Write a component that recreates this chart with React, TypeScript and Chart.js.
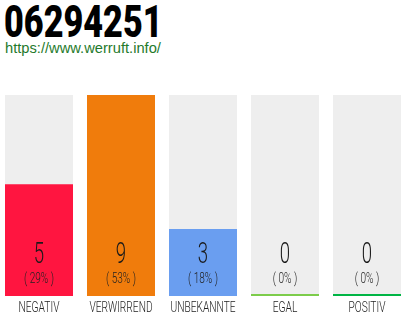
import React, { useEffect, useRef } from "react";
import { Chart, registerables } from "chart.js";

Chart.register(...registerables);

const categories = ["NEGATIV", "VERWIRREND", "UNBEKANNTE", "EGAL", "POSITIV"];
const counts = [5, 9, 3, 0, 0];
const percents = [29, 53, 18, 0, 0];
const barColors = ["#ff1540", "#f07c0c", "#6a9ef0", "#7ccc4a", "#00b545"];
const trackColor = "#eeeeee";
const phoneNumber = "06294251";
const siteUrl = "https://www.werruft.info/";

// Draws horizontally squeezed text so it reads like a condensed face.
function condensedText(
  ctx: CanvasRenderingContext2D,
  text: string,
  x: number,
  y: number,
  font: string,
  sx: number,
  color: string
) {
  ctx.save();
  ctx.translate(x, y);
  ctx.scale(sx, 1);
  ctx.font = font;
  ctx.fillStyle = color;
  ctx.textAlign = "center";
  ctx.textBaseline = "alphabetic";
  ctx.fillText(text, 0, 0);
  ctx.restore();
}

const labelPlugin = {
  id: "barLabels",
  afterDatasetsDraw(chart: any) {
    const ctx = chart.ctx as CanvasRenderingContext2D;
    const bottom = chart.chartArea.bottom;
    const xScale = chart.scales.x;
    categories.forEach((cat, i) => {
      const x = xScale.getPixelForValue(i);
      condensedText(ctx, String(counts[i]), x, bottom - 33, "300 30px Roboto", 0.62, "#1a1a1a");
      condensedText(ctx, `( ${percents[i]}% )`, x, bottom - 13, "300 14px Roboto", 0.72, "#222");
      condensedText(ctx, cat, x, bottom + 16, "300 15px Roboto", 0.68, "#222");
    });
  },
};

export default function App() {
  const canvasRef = useRef<HTMLCanvasElement | null>(null);

  useEffect(() => {
    const canvas = canvasRef.current;
    if (!canvas) return;
    const maxCount = Math.max(...counts);
    const chart = new Chart(canvas, {
      type: "bar",
      data: {
        labels: categories,
        datasets: [
          {
            data: counts,
            backgroundColor: barColors,
            borderWidth: 0,
            minBarLength: 2,
            grouped: false,
            order: 0,
            categoryPercentage: 1,
            barPercentage: 68 / 82,
          },
          {
            data: categories.map(() => maxCount),
            backgroundColor: trackColor,
            borderWidth: 0,
            grouped: false,
            order: 1,
            categoryPercentage: 1,
            barPercentage: 68 / 82,
          },
        ],
      },
      options: {
        responsive: false,
        animation: false,
        devicePixelRatio: 1,
        layout: { padding: { top: 95, bottom: 24, left: 0, right: 0 } },
        scales: {
          x: { display: false },
          y: { display: false, min: 0, max: maxCount },
        },
        plugins: {
          legend: { display: false },
          tooltip: { enabled: false },
        },
      },
      plugins: [labelPlugin],
    });
    return () => chart.destroy();
  }, []);

  return (
    <div
      style={{
        position: "fixed",
        left: 0,
        top: 0,
        width: 410,
        height: 320,
        background: "#fff",
        overflow: "hidden",
      }}
    >
      <div
        style={{
          position: "absolute",
          left: 4,
          top: -1,
          fontFamily: "Roboto",
          fontWeight: 900,
          fontSize: 45,
          lineHeight: "45px",
          color: "#000",
          transform: "scaleX(0.76)",
          transformOrigin: "left top",
          whiteSpace: "nowrap",
        }}
      >
        {phoneNumber}
      </div>
      <div
        style={{
          position: "absolute",
          left: 5,
          top: 39,
          fontFamily: "'Liberation Sans', Arial, sans-serif",
          fontSize: 14.7,
          lineHeight: "18px",
          color: "#1f7a2c",
          whiteSpace: "nowrap",
        }}
      >
        {siteUrl}
      </div>
      <canvas
        ref={canvasRef}
        width={410}
        height={320}
        style={{ position: "absolute", left: -2, top: 0, width: 410, height: 320 }}
      />
    </div>
  );
}
